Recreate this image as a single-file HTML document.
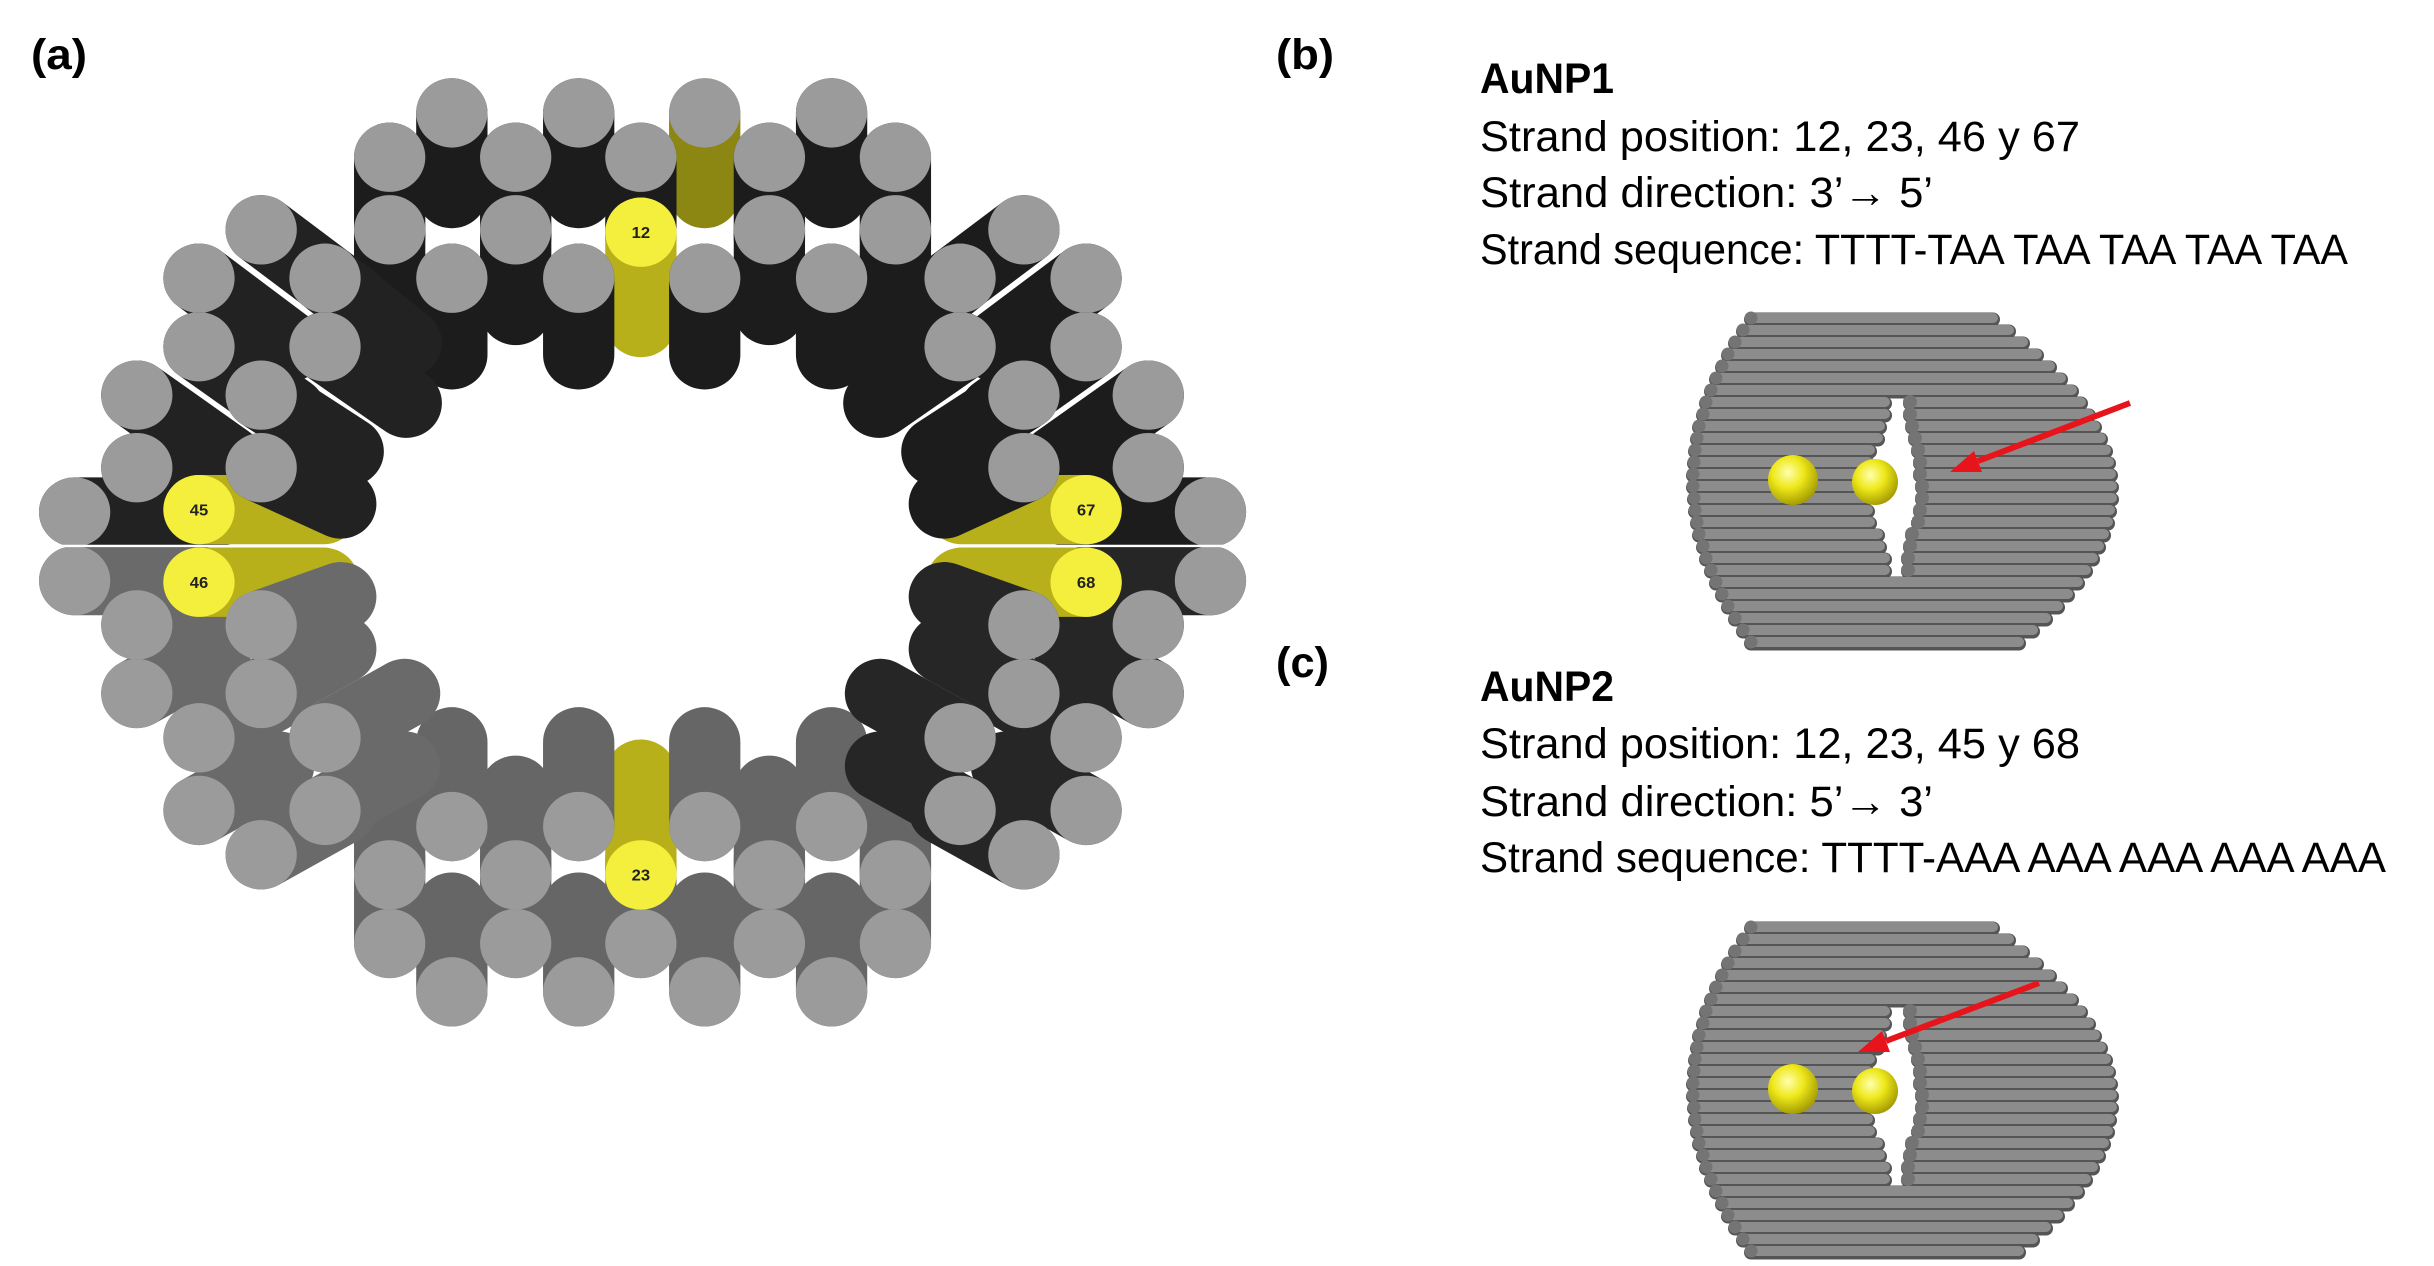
<!DOCTYPE html>
<html><head><meta charset="utf-8"><style>
html,body{margin:0;padding:0;background:#fff;}
svg{display:block}
.b{stroke:currentColor;stroke-width:86;stroke-linecap:round;fill:none}
.c{fill:#9b9b9b}
.yb{stroke:#b8b01a;stroke-width:86;stroke-linecap:round;fill:none}
.yc{fill:#f3ef3c}
.lbl{font-family:"Liberation Sans",sans-serif;font-weight:bold;font-size:20px;fill:#222;text-anchor:middle}
.t{font-family:"Liberation Sans",sans-serif;font-size:43px;fill:#000}
.tb{font-family:"Liberation Sans",sans-serif;font-size:43px;font-weight:bold;fill:#000}
</style></head><body>
<svg width="2434" height="1266" viewBox="0 0 2434 1266" xmlns="http://www.w3.org/2000/svg">
<defs>
<radialGradient id="sph" cx="0.4" cy="0.35" r="0.7">
<stop offset="0" stop-color="#ffffb0"/><stop offset="0.45" stop-color="#eee81a"/><stop offset="1" stop-color="#9c9400"/>
</radialGradient>
<path id="rods" fill="none" stroke-linecap="round" d="M1751 318H1993M1743 330H2009M1735 342H2023M1728 354H2037M1722 366H2050M1716 378H2061M1711 390H2072M1706 402H1885M1910 402H2081M1703 414H1885M1910 414H2089M1699 426H1880M1912 426H2095M1697 438H1878M1915 438H2101M1695 450H1870M1918 450H2106M1694 462H1868M1920 462H2109M1693 474H1868M1920 474H2111M1693 486H1866M1922 486H2112M1694 498H1866M1922 498H2112M1695 510H1868M1920 510H2110M1697 522H1870M1918 522H2108M1699 534H1878M1912 534H2104M1703 546H1880M1910 546H2099M1706 558H1885M1908 558H2093M1711 570H1885M1908 570H2086M1716 582H2078M1722 594H2068M1728 606H2058M1735 618H2046M1743 630H2033M1751 642H2019"/>
<g id="barrel">
<use href="#rods" stroke="#555" stroke-width="14" transform="translate(0,1.5)"/>
<use href="#rods" stroke="#8c8c8c" stroke-width="10"/>
<g fill="#747474">
<circle cx="1751" cy="318" r="6.5"/><circle cx="1743" cy="330" r="6.5"/><circle cx="1735" cy="342" r="6.5"/><circle cx="1728" cy="354" r="6.5"/><circle cx="1722" cy="366" r="6.5"/><circle cx="1716" cy="378" r="6.5"/><circle cx="1711" cy="390" r="6.5"/><circle cx="1706" cy="402" r="6.5"/><circle cx="1703" cy="414" r="6.5"/><circle cx="1699" cy="426" r="6.5"/><circle cx="1697" cy="438" r="6.5"/><circle cx="1695" cy="450" r="6.5"/><circle cx="1694" cy="462" r="6.5"/><circle cx="1693" cy="474" r="6.5"/><circle cx="1693" cy="486" r="6.5"/><circle cx="1694" cy="498" r="6.5"/><circle cx="1695" cy="510" r="6.5"/><circle cx="1697" cy="522" r="6.5"/><circle cx="1699" cy="534" r="6.5"/><circle cx="1703" cy="546" r="6.5"/><circle cx="1706" cy="558" r="6.5"/><circle cx="1711" cy="570" r="6.5"/><circle cx="1716" cy="582" r="6.5"/><circle cx="1722" cy="594" r="6.5"/><circle cx="1728" cy="606" r="6.5"/><circle cx="1735" cy="618" r="6.5"/><circle cx="1743" cy="630" r="6.5"/><circle cx="1751" cy="642" r="6.5"/>
<circle cx="1910" cy="402" r="7"/><circle cx="1910" cy="414" r="7"/><circle cx="1912" cy="426" r="7"/><circle cx="1915" cy="438" r="7"/><circle cx="1918" cy="450" r="7"/><circle cx="1920" cy="462" r="7"/><circle cx="1920" cy="474" r="7"/><circle cx="1922" cy="486" r="7"/><circle cx="1922" cy="498" r="7"/><circle cx="1920" cy="510" r="7"/><circle cx="1918" cy="522" r="7"/><circle cx="1912" cy="534" r="7"/><circle cx="1910" cy="546" r="7"/><circle cx="1908" cy="558" r="7"/><circle cx="1908" cy="570" r="7"/>
</g>
<path d="M1880 452 L1905 445 L1912 520 L1885 525 Z" fill="#fff"/>
<circle cx="1793" cy="480" r="25" fill="url(#sph)"/>
<circle cx="1875" cy="482" r="23" fill="url(#sph)"/>
</g>
</defs>

<svg x="0" y="0" width="1300" height="1266" viewBox="0 0 1568 1570" preserveAspectRatio="none">
<defs>
<g id="UL">
<line class="b" x1="240" y1="345" x2="350" y2="430"/><circle class="c" cx="240" cy="345" r="43"/>
<line class="b" x1="165" y1="490" x2="275" y2="570"/><circle class="c" cx="165" cy="490" r="43"/>
<line class="b" x1="90" y1="635" x2="240" y2="635"/><circle class="c" cx="90" cy="635" r="43"/>
<line class="b" x1="315" y1="285" x2="425" y2="370"/><circle class="c" cx="315" cy="285" r="43"/>
<line class="b" x1="240" y1="430" x2="350" y2="510"/><circle class="c" cx="240" cy="430" r="43"/>
<line class="b" x1="165" y1="580" x2="261" y2="635"/><circle class="c" cx="165" cy="580" r="43"/>
<line class="b" x1="392" y1="345" x2="490" y2="425"/><circle class="c" cx="392" cy="345" r="43"/>
<line class="b" x1="315" y1="490" x2="420" y2="560"/><circle class="c" cx="315" cy="490" r="43"/>
<line class="yb" x1="240" y1="632" x2="390" y2="632"/><circle class="yc" cx="240" cy="632" r="43"/>
<line class="b" x1="392" y1="430" x2="490" y2="500"/><circle class="c" cx="392" cy="430" r="43"/>
<line class="b" x1="315" y1="580" x2="411" y2="625"/><circle class="c" cx="315" cy="580" r="43"/>
</g>
<g id="LL">
<line class="b" x1="240" y1="1005" x2="336" y2="950"/><circle class="c" cx="240" cy="1005" r="43"/>
<line class="b" x1="165" y1="860" x2="261" y2="805"/><circle class="c" cx="165" cy="860" r="43"/>
<line class="b" x1="90" y1="720" x2="240" y2="720"/><circle class="c" cx="90" cy="720" r="43"/>
<line class="b" x1="315" y1="1060" x2="411" y2="1005"/><circle class="c" cx="315" cy="1060" r="43"/>
<line class="b" x1="240" y1="915" x2="336" y2="860"/><circle class="c" cx="240" cy="915" r="43"/>
<line class="b" x1="165" y1="775" x2="261" y2="730"/><circle class="c" cx="165" cy="775" r="43"/>
<line class="b" x1="392" y1="1005" x2="488" y2="950"/><circle class="c" cx="392" cy="1005" r="43"/>
<line class="b" x1="315" y1="860" x2="411" y2="805"/><circle class="c" cx="315" cy="860" r="43"/>
<line class="yb" x1="240" y1="722" x2="390" y2="722"/><circle class="yc" cx="240" cy="722" r="43"/>
<line class="b" x1="392" y1="915" x2="488" y2="860"/><circle class="c" cx="392" cy="915" r="43"/>
<line class="b" x1="315" y1="775" x2="411" y2="740"/><circle class="c" cx="315" cy="775" r="43"/>
</g>
</defs>
<g color="#1c1c1c">
<line class="b" x1="545" y1="140" x2="545" y2="240"/><circle class="c" cx="545" cy="140" r="43"/>
<line class="b" x1="698" y1="140" x2="698" y2="240"/><circle class="c" cx="698" cy="140" r="43"/>
<line class="yb" x1="850" y1="140" x2="850" y2="240" style="stroke:#8c8612"/><circle class="c" cx="850" cy="140" r="43"/>
<line class="b" x1="1003" y1="140" x2="1003" y2="240"/><circle class="c" cx="1003" cy="140" r="43"/>
<line class="b" x1="470" y1="195" x2="470" y2="295"/><circle class="c" cx="470" cy="195" r="43"/>
<line class="b" x1="622" y1="195" x2="622" y2="295"/><circle class="c" cx="622" cy="195" r="43"/>
<line class="b" x1="773" y1="195" x2="773" y2="295"/><circle class="c" cx="773" cy="195" r="43"/>
<line class="b" x1="928" y1="195" x2="928" y2="295"/><circle class="c" cx="928" cy="195" r="43"/>
<line class="b" x1="1080" y1="195" x2="1080" y2="295"/><circle class="c" cx="1080" cy="195" r="43"/>
<line class="b" x1="470" y1="285" x2="470" y2="385"/><circle class="c" cx="470" cy="285" r="43"/>
<line class="b" x1="622" y1="285" x2="622" y2="385"/><circle class="c" cx="622" cy="285" r="43"/>
<line class="yb" x1="773" y1="288" x2="773" y2="400"/><circle class="yc" cx="773" cy="288" r="43"/>
<line class="b" x1="928" y1="285" x2="928" y2="385"/><circle class="c" cx="928" cy="285" r="43"/>
<line class="b" x1="1080" y1="285" x2="1080" y2="385"/><circle class="c" cx="1080" cy="285" r="43"/>
<line class="b" x1="545" y1="345" x2="545" y2="440"/><circle class="c" cx="545" cy="345" r="43"/>
<line class="b" x1="698" y1="345" x2="698" y2="440"/><circle class="c" cx="698" cy="345" r="43"/>
<line class="b" x1="850" y1="345" x2="850" y2="440"/><circle class="c" cx="850" cy="345" r="43"/>
<line class="b" x1="1003" y1="345" x2="1003" y2="440"/><circle class="c" cx="1003" cy="345" r="43"/>
</g>
<g color="#666666">
<line class="b" x1="545" y1="1230" x2="545" y2="1125"/><circle class="c" cx="545" cy="1230" r="43"/>
<line class="b" x1="698" y1="1230" x2="698" y2="1125"/><circle class="c" cx="698" cy="1230" r="43"/>
<line class="b" x1="850" y1="1230" x2="850" y2="1125"/><circle class="c" cx="850" cy="1230" r="43"/>
<line class="b" x1="1003" y1="1230" x2="1003" y2="1125"/><circle class="c" cx="1003" cy="1230" r="43"/>
<line class="b" x1="470" y1="1170" x2="470" y2="1065"/><circle class="c" cx="470" cy="1170" r="43"/>
<line class="b" x1="622" y1="1170" x2="622" y2="1065"/><circle class="c" cx="622" cy="1170" r="43"/>
<line class="b" x1="773" y1="1170" x2="773" y2="1065"/><circle class="c" cx="773" cy="1170" r="43"/>
<line class="b" x1="928" y1="1170" x2="928" y2="1065"/><circle class="c" cx="928" cy="1170" r="43"/>
<line class="b" x1="1080" y1="1170" x2="1080" y2="1065"/><circle class="c" cx="1080" cy="1170" r="43"/>
<line class="b" x1="470" y1="1085" x2="470" y2="980"/><circle class="c" cx="470" cy="1085" r="43"/>
<line class="b" x1="622" y1="1085" x2="622" y2="980"/><circle class="c" cx="622" cy="1085" r="43"/>
<line class="yb" x1="773" y1="1085" x2="773" y2="960"/><circle class="yc" cx="773" cy="1085" r="43"/>
<line class="b" x1="928" y1="1085" x2="928" y2="980"/><circle class="c" cx="928" cy="1085" r="43"/>
<line class="b" x1="1080" y1="1085" x2="1080" y2="980"/><circle class="c" cx="1080" cy="1085" r="43"/>
<line class="b" x1="545" y1="1025" x2="545" y2="920"/><circle class="c" cx="545" cy="1025" r="43"/>
<line class="b" x1="698" y1="1025" x2="698" y2="920"/><circle class="c" cx="698" cy="1025" r="43"/>
<line class="b" x1="850" y1="1025" x2="850" y2="920"/><circle class="c" cx="850" cy="1025" r="43"/>
<line class="b" x1="1003" y1="1025" x2="1003" y2="920"/><circle class="c" cx="1003" cy="1025" r="43"/>
</g>
<use href="#UL" color="#222222"/>
<use href="#LL" color="#6a6a6a"/>
<use href="#UL" color="#1c1c1c" transform="translate(1550,0) scale(-1,1)"/>
<use href="#LL" color="#262626" transform="translate(1550,0) scale(-1,1)"/>
<line x1="40" y1="677" x2="400" y2="677" stroke="#fff" stroke-width="3"/>
<line x1="1150" y1="677" x2="1510" y2="677" stroke="#fff" stroke-width="3"/>
<text class="lbl" x="773" y="295">12</text>
<text class="lbl" x="240" y="639">45</text>
<text class="lbl" x="240" y="729">46</text>
<text class="lbl" x="1310" y="639">67</text>
<text class="lbl" x="1310" y="729">68</text>
<text class="lbl" x="773" y="1092">23</text>
</svg>

<text class="tb" x="31" y="69" textLength="56" lengthAdjust="spacingAndGlyphs">(a)</text>
<text class="tb" x="1276" y="69" textLength="58" lengthAdjust="spacingAndGlyphs">(b)</text>
<text class="tb" x="1276" y="677" textLength="53" lengthAdjust="spacingAndGlyphs">(c)</text>

<text class="tb" x="1480" y="93" textLength="134" lengthAdjust="spacingAndGlyphs">AuNP1</text>
<text class="t" x="1480" y="151" textLength="600" lengthAdjust="spacingAndGlyphs">Strand position: 12, 23, 46 y 67</text>
<text class="t" x="1480" y="207" textLength="453" lengthAdjust="spacingAndGlyphs">Strand direction: 3’→ 5’</text>
<text class="t" x="1480" y="264" textLength="868" lengthAdjust="spacingAndGlyphs">Strand sequence: TTTT-TAA TAA TAA TAA TAA</text>

<text class="tb" x="1480" y="701" textLength="134" lengthAdjust="spacingAndGlyphs">AuNP2</text>
<text class="t" x="1480" y="758" textLength="600" lengthAdjust="spacingAndGlyphs">Strand position: 12, 23, 45 y 68</text>
<text class="t" x="1480" y="816" textLength="453" lengthAdjust="spacingAndGlyphs">Strand direction: 5’→ 3’</text>
<text class="t" x="1480" y="872" textLength="906" lengthAdjust="spacingAndGlyphs">Strand sequence: TTTT-AAA AAA AAA AAA AAA</text>

<use href="#barrel"/>
<use href="#barrel" transform="translate(0,609)"/>

<line x1="2130" y1="403" x2="1978" y2="461" stroke="#e8141c" stroke-width="6"/>
<polygon points="1950,472 1982,472 1974,451" fill="#e8141c"/>
<line x1="2039" y1="983" x2="1886" y2="1041" stroke="#e8141c" stroke-width="6"/>
<polygon points="1858,1052 1890,1052 1882,1031" fill="#e8141c"/>
</svg>
</body></html>
